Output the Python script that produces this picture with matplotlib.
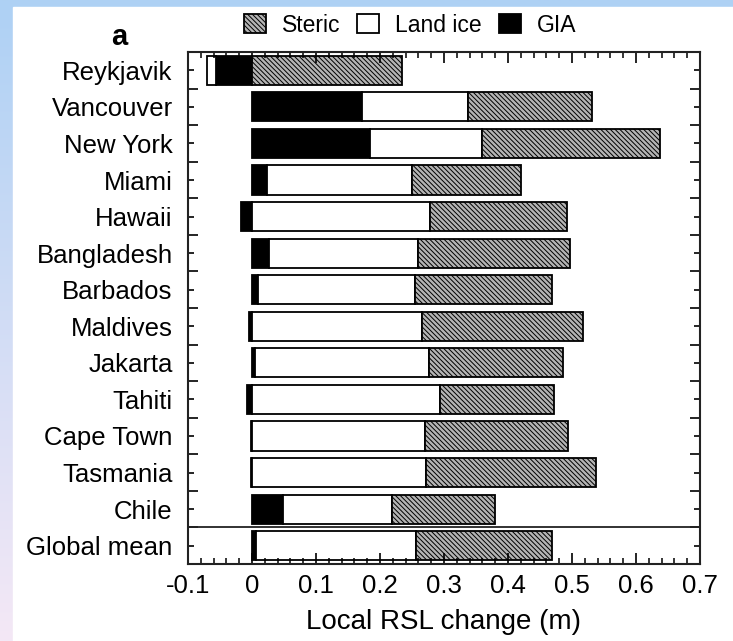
import matplotlib as mpl
import matplotlib.pyplot as plt
import numpy as np

mpl.rcParams['font.family'] = ['Liberation Sans', 'DejaVu Sans']
mpl.rcParams['hatch.linewidth'] = 0.7

# values (m)
cities = ['Reykjavik', 'Vancouver', 'New York', 'Miami', 'Hawaii', 'Bangladesh',
          'Barbados', 'Maldives', 'Jakarta', 'Tahiti', 'Cape Town', 'Tasmania',
          'Chile', 'Global mean']
gia = [-0.056, 0.172, 0.185, 0.023, -0.017, 0.027, 0.010, -0.005, 0.005,
       -0.008, -0.002, -0.002, 0.048, 0.006]
land_ice = [-0.015, 0.166, 0.174, 0.227, 0.278, 0.232, 0.245, 0.265, 0.271,
            0.293, 0.270, 0.272, 0.170, 0.250]
steric = [0.234, 0.194, 0.279, 0.171, 0.214, 0.238, 0.213, 0.252, 0.210,
          0.179, 0.223, 0.266, 0.161, 0.212]
xticks = [-0.1, 0, 0.1, 0.2, 0.3, 0.4, 0.5, 0.6, 0.7]
xticklabels = ['-0.1', '0', '0.1', '0.2', '0.3', '0.4', '0.5', '0.6', '0.7']

fig = plt.figure(figsize=(7.33, 6.41), dpi=100)

# background frame: blue-to-pink gradient on the left/top edge
bg = fig.add_axes([0, 0, 1, 1], zorder=-10)
top_c = np.array(mpl.colors.to_rgb('#aed1f4'))
bot_c = np.array(mpl.colors.to_rgb('#f4e8f6'))
t = np.linspace(0, 1, 256)[:, None]
grad = top_c * (1 - t) + bot_c * t
bg.imshow(grad[:, None, :], aspect='auto', extent=[0, 1, 0, 1])
bg.add_patch(plt.Rectangle((13 / 733, 0), 1, 1 - 7 / 641, color='white'))
bg.set_xlim(0, 1)
bg.set_ylim(0, 1)
bg.axis('off')

ax = fig.add_axes([188 / 733, 1 - 564 / 641, 512 / 733, 512 / 641])

y = np.arange(len(cities))
gia_a = np.array(gia)
ice_a = np.array(land_ice)
ster_a = np.array(steric)
pos_base = np.clip(gia_a, 0, None)
neg_base = np.clip(gia_a, None, 0)
ice_left = np.where(ice_a < 0, neg_base, pos_base)
ster_left = pos_base + np.clip(ice_a, 0, None)

h = 0.8
ax.barh(y, gia_a, height=h, color='black', edgecolor='black', lw=1.3, label='GIA')
ax.barh(y, ice_a, left=ice_left, height=h, color='white', edgecolor='black',
        lw=1.3, label='Land ice')
ax.barh(y, ster_a, left=ster_left, height=h, color='#b4b4b4', edgecolor='black',
        lw=1.3, hatch='\\\\\\\\\\\\\\', label='Steric')

ax.axhline(len(cities) - 1.5, color='#222222', lw=1.3)

ax.set_xlim(-0.1, 0.7)
ax.set_ylim(len(cities) - 0.5, -0.5)
ax.set_xticks(xticks)
ax.set_xticklabels(xticklabels, fontsize=18.5)
ax.set_xticks(np.arange(-0.1, 0.701, 0.02), minor=True)
ax.set_yticks(y)
ax.set_yticklabels(cities, fontsize=18.5)
ax.set_yticks(np.arange(-0.5, len(cities), 1.0), minor=True)
ax.tick_params(axis='x', which='major', direction='in', length=8, width=1.2,
               top=True, pad=7)
ax.tick_params(axis='x', which='minor', direction='in', length=4, width=1.1, top=True)
ax.tick_params(axis='y', which='major', direction='in', length=4, width=1.2,
               right=True, pad=11)
ax.tick_params(axis='y', which='minor', direction='in', length=7, width=1.2, right=True)
for s in ax.spines.values():
    s.set_linewidth(1.5)
    s.set_color('#222222')

ax.set_xlabel('Local RSL change (m)', fontsize=20, labelpad=8)

handles, labels = ax.get_legend_handles_labels()
order = [2, 1, 0]
fig.legend([handles[i] for i in order], [labels[i] for i in order],
           loc='center', bbox_to_anchor=(410 / 733, 1 - 25 / 641), ncol=3,
           frameon=False, fontsize=16.5, handlelength=0.95, handleheight=0.9,
           handletextpad=0.7, columnspacing=0.75, borderpad=0)

fig.text(119 / 733, 1 - 37 / 641, 'a', fontsize=21, fontweight='bold',
         ha='center', va='center')

fig.savefig('out.png', dpi=100)
